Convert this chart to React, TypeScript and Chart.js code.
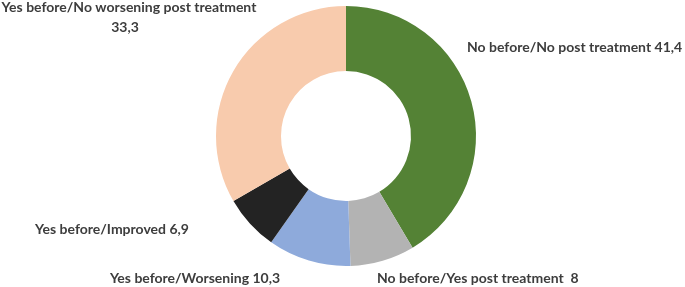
import React, { useEffect, useRef } from "react";
import { Chart, registerables } from "chart.js";

Chart.register(...registerables);

const categories = [
  "No before/No post treatment",
  "No before/Yes post treatment",
  "Yes before/Worsening",
  "Yes before/Improved",
  "Yes before/No worsening post treatment",
];
const values = [41.4, 8, 10.3, 6.9, 33.3];
const valueLabels = ["41,4", "8", "10,3", "6,9", "33,3"];
const colors = ["#548235", "#B3B3B3", "#8EAADB", "#232323", "#F8CBAD"];

// label layout relative to doughnut center
const labelLayout = [
  { align: "left", dx: 121, dy: -89, sep: " ", lines: 1 },
  { align: "left", dx: 31, dy: 142, sep: "  ", lines: 1 },
  { align: "center", dx: -151, dy: 142, sep: " ", lines: 1 },
  { align: "center", dx: -234, dy: 93, sep: " ", lines: 1 },
  { align: "center", dx: -217, dy: -129, sep: " ", lines: 2 },
];

const labelPlugin = {
  id: "outerLabels",
  afterDatasetsDraw(chart: any) {
    const meta = chart.getDatasetMeta(0);
    const arc = meta.data[0];
    if (!arc) return;
    const cx = arc.x;
    const cy = arc.y;
    const ctx = chart.ctx;
    ctx.save();
    ctx.fillStyle = "#3d3d3d";
    ctx.font = "bold 14px Lato";
    ctx.textBaseline = "middle";
    categories.forEach((cat, i) => {
      const l = labelLayout[i];
      ctx.textAlign = l.align;
      if (l.lines === 2) {
        ctx.fillText(cat, cx + l.dx, cy + l.dy);
        ctx.fillText(valueLabels[i], cx + l.dx - 4, cy + l.dy + 20);
      } else {
        ctx.fillText(cat + l.sep + valueLabels[i], cx + l.dx, cy + l.dy);
      }
    });
    ctx.restore();
  },
};

export default function App() {
  const ref = useRef<HTMLCanvasElement>(null);
  useEffect(() => {
    const chart = new Chart(ref.current!, {
      type: "doughnut",
      data: {
        labels: categories,
        datasets: [
          {
            data: values,
            backgroundColor: colors,
            borderWidth: 0,
          },
        ],
      },
      options: {
        animation: false,
        responsive: false,
        devicePixelRatio: 1,
        cutout: "50%",
        layout: { padding: { left: 7, right: 0, top: 6, bottom: 21 } },
        plugins: { legend: { display: false }, tooltip: { enabled: false } },
      },
      plugins: [labelPlugin],
    } as any);
    return () => chart.destroy();
  }, []);
  return (
    <div style={{ position: "fixed", left: 0, top: 0, width: 685, height: 287, background: "#fff" }}>
      <canvas ref={ref} width={685} height={287} style={{ width: 685, height: 287 }} />
    </div>
  );
}
